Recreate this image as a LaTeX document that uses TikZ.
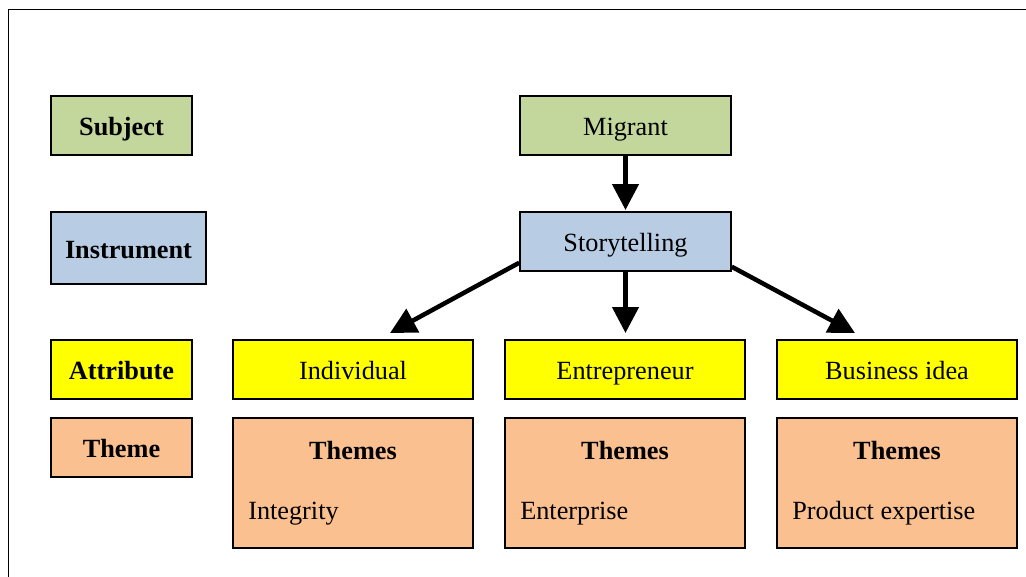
\documentclass[tikz,border=0pt]{standalone}
\usepackage{fontspec}
\setmainfont{Liberation Serif}
\usetikzlibrary{arrows.meta,calc}
\definecolor{cgreen}{RGB}{195,214,155}
\definecolor{cblue}{RGB}{184,204,228}
\definecolor{cyellow}{RGB}{255,255,0}
\definecolor{corange}{RGB}{250,192,144}
\tikzset{
  box/.style 2 args={draw=black, line width=1.1pt, inner sep=0pt,
    minimum width=#1*0.75pt, minimum height=#2*0.75pt,
    text height=18.7pt, text depth=3.7pt,
    font=\fontsize{19.7}{23}\selectfont},
  lbl/.style={inner sep=0pt, font=\fontsize{19.7}{23}\selectfont},
  bigarrow/.style={line width=3.4pt, -{Triangle[length=19.5pt, width=19.5pt]}}
}
\begin{document}
\begin{tikzpicture}[x=0.75pt, y=-0.75pt]
\useasboundingbox (0,0) rectangle (1026,576);
% outer frame
\coordinate (fbl) at (8.5,580);
\coordinate (ftl) at (8.5,9.5);
\coordinate (ftr) at (1030,9.5);
\draw[line width=1.2pt] (fbl) -- (ftl) -- (ftr);
% left legend
\node[box={141}{59}, fill=cgreen] (subject) at (121.5,125.5) {\bfseries Subject};
\node[box={155}{72}, fill=cblue] (instrument) at (128.5,248) {\bfseries Instrument};
\node[box={141}{59}, fill=cyellow] (attribute) at (121.5,369.5) {\bfseries Attribute};
\node[box={141}{59}, fill=corange] (theme) at (121.5,447.5) {\bfseries Theme};
% main
\node[box={211}{59}, fill=cgreen] (migrant) at (625.5,125.5) {Migrant};
\node[box={211}{59}, fill=cblue] (story) at (625.5,241.5) {Storytelling};
\node[box={240}{59}, fill=cyellow] (indiv) at (353,369.5) {Individual};
\node[box={240}{59}, fill=cyellow] (entre) at (625,369.5) {Entrepreneur};
\node[box={240}{59}, fill=cyellow] (busi) at (897,369.5) {Business idea};
\node[box={240}{130}, fill=corange] (th1) at (353,483) {};
\node[box={240}{130}, fill=corange] (th2) at (625,483) {};
\node[box={240}{130}, fill=corange] (th3) at (897,483) {};
\node[lbl, anchor=base] (th1t) at (353,459) {\bfseries Themes};
\node[lbl, anchor=base] (th2t) at (625,459) {\bfseries Themes};
\node[lbl, anchor=base] (th3t) at (897,459) {\bfseries Themes};
\node[lbl, anchor=base west] (th1i) at (248,519) {Integrity};
\node[lbl, anchor=base west] (th2i) at (520,519) {Enterprise};
\node[lbl, anchor=base west] (th3i) at (792,519) {Product expertise};
% arrows
\coordinate (t0) at (625.5,210);
\coordinate (t1) at (390,333);
\coordinate (t2) at (625.5,333);
\coordinate (t3) at (855,333);
\draw[bigarrow] (migrant.south) -- (t0);
\draw[bigarrow] (story.south) -- (t2);
\draw[bigarrow] ($(story.south west)+(0,-9)$) -- (t1);
\draw[bigarrow] ($(story.south east)+(0,-5)$) -- (t3);
\end{tikzpicture}
\end{document}
